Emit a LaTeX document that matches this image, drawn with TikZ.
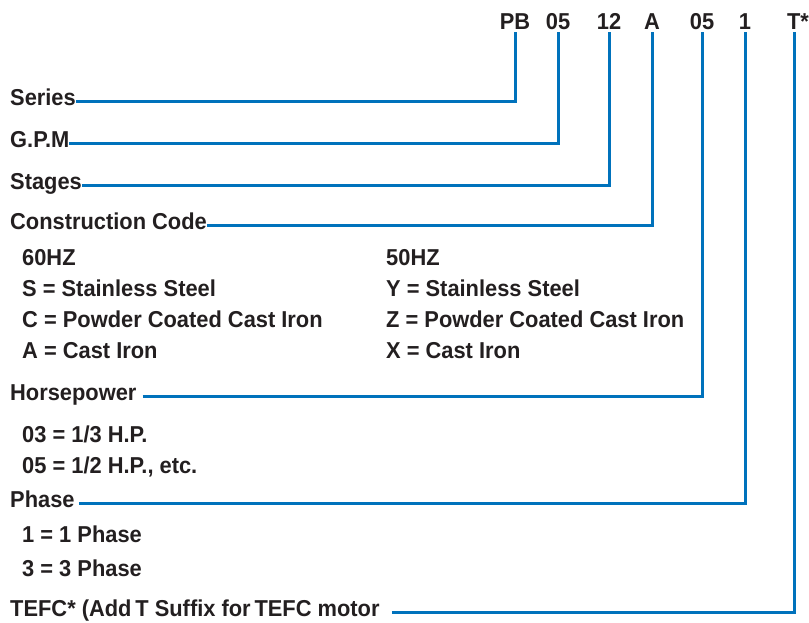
\documentclass[tikz,border=0pt]{standalone}
\usepackage{fontspec}
\setmainfont{Liberation Sans}[FakeStretch=0.95]
\usepackage{tikz}
\usetikzlibrary{positioning}
\definecolor{leadblue}{RGB}{0,114,188}
\definecolor{inkgray}{RGB}{35,31,32}
\tikzset{
  codelbl/.style={inner sep=0pt,outer sep=3pt,anchor=base},
  fieldlbl/.style={inner sep=0pt,anchor=base west},
  optlbl/.style={inner sep=0pt,anchor=base west},
  leadline/.style={draw=leadblue,line width=3pt}
}

\begin{document}
\begin{tikzpicture}[x=1pt,y=-1pt,font=\fontsize{23}{26}\selectfont\bfseries,text=inkgray]
  \useasboundingbox (0,0) rectangle (809,622);
  % Model number
  \node[codelbl] (pb) at (515,29) {PB};
  \node[codelbl] (gpm) at (558,29) {05};
  \node[codelbl] (stg) at (609,29) {12};
  \node[codelbl] (cc) at (652,29) {A};
  \node[codelbl] (hp) at (702,29) {05};
  \node[codelbl] (ph) at (745,29) {1};
  \node[codelbl] (tf) at (798,29) {T*};

  % Field names
  \node[fieldlbl] (serieslbl) at (10,105.5) {Series};
  \node[fieldlbl] (gpmlbl) at (10,147.5) {G.P.M};
  \node[fieldlbl] (stglbl) at (10,189.5) {Stages};
  \node[fieldlbl] (cclbl) at (10,229.5) {Construction Code};
  \node[fieldlbl] (hplbl) at (10,400.5) {Horsepower};
  \node[fieldlbl] (phlbl) at (10,507.5) {Phase};
  \node[fieldlbl] (tflbl) at (10,616.5) {TEFC* (Add\,T Suffix for\,TEFC motor};

  % Options
  \node[optlbl] (hz60) at (22,265) {60HZ};
  \node[optlbl] (ss60) at (22,296) {S = Stainless Steel};
  \node[optlbl] (pc60) at (22,327) {C = Powder Coated Cast Iron};
  \node[optlbl] (ci60) at (22,358) {A = Cast Iron};
  \node[optlbl] (hz50) at (386,265) {50HZ};
  \node[optlbl] (ss50) at (386,296) {Y = Stainless Steel};
  \node[optlbl] (pc50) at (386,327) {Z = Powder Coated Cast Iron};
  \node[optlbl] (ci50) at (386,358) {X = Cast Iron};
  \node[optlbl] (hp03) at (22,442) {03 = 1/3 H.P.};
  \node[optlbl] (hp05) at (22,473) {05 = 1/2 H.P., etc.};
  \node[optlbl] (ph1) at (22,542) {1 = 1 Phase};
  \node[optlbl] (ph3) at (22,576) {3 = 3 Phase};

  % Leader lines
  \draw[leadline] ([yshift=4.5pt]serieslbl.base east) -| (pb);
  \draw[leadline] ([yshift=4.5pt]gpmlbl.base east) -| (gpm);
  \draw[leadline] ([yshift=4.5pt]stglbl.base east) -| (stg);
  \draw[leadline] ([yshift=4.5pt]cclbl.base east) -| (cc);
  \draw[leadline] ([xshift=6pt,yshift=4.5pt]hplbl.base east) -| (hp);
  \draw[leadline] ([xshift=4pt,yshift=4.5pt]phlbl.base east) -| (ph);
  \draw[leadline] ([xshift=12pt,yshift=4.5pt]tflbl.base east) -| ([xshift=-4pt,yshift=-3pt]tf.base);
\end{tikzpicture}
\end{document}
